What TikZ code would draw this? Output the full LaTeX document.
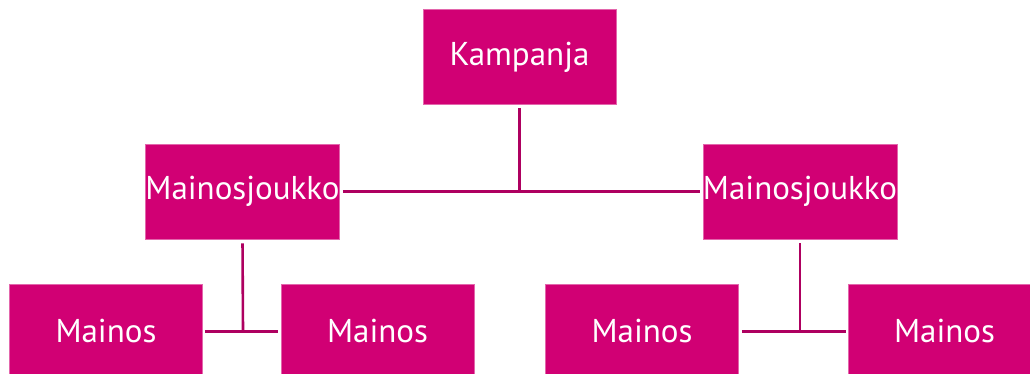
\documentclass[tikz,border=0pt]{standalone}
\usepackage{fontspec}
\setmainfont{PT Sans}
\definecolor{boxfill}{HTML}{D10074}
\definecolor{linecol}{HTML}{AE0060}
\tikzset{
  box/.style={fill=boxfill, draw=boxfill!60!white, line width=0.6pt, minimum width=193pt, minimum height=95pt, inner sep=0pt, text=white, font=\fontsize{33}{33}\selectfont},
  conn/.style={draw=linecol, line width=2.6pt}
}
\begin{document}
\begin{tikzpicture}[x=1pt,y=1pt]
\useasboundingbox (0,0) rectangle (1030,374);
\node[box] (K) at (519.5,317) {Kampanja};
\node[box] (MJL) at (242.5,182.5) {Mainosjoukko};
\node[box] (MJR) at (800,182.5) {Mainosjoukko};
\node[box] (M1) at (106,42.5) {Mainos};
\node[box] (M2) at (377.5,42.5) {Mainos};
\node[box] (M3) at (642,42.5) {Mainos};
\node[box] (M4) at (944.5,42.5) {Mainos};
\coordinate (j1) at (519.5,182.5);
\coordinate (j2) at (243,42.5);
\coordinate (j3) at (800,42.5);
\draw[conn, shorten <=3pt] (K.south) -- (j1);
\draw[conn, shorten <=3pt, shorten >=3pt] (MJL.east) -- (MJR.west);
\draw[conn, shorten <=4pt] (MJL.south) -- (j2);
\draw[conn, shorten <=2pt, shorten >=3pt] (M1.east) -- (M2.west);
\draw[conn, shorten <=4pt] (MJR.south) -- (j3);
\draw[conn, shorten <=3pt, shorten >=2pt] (M3.east) -- (M4.west);
\end{tikzpicture}
\end{document}
